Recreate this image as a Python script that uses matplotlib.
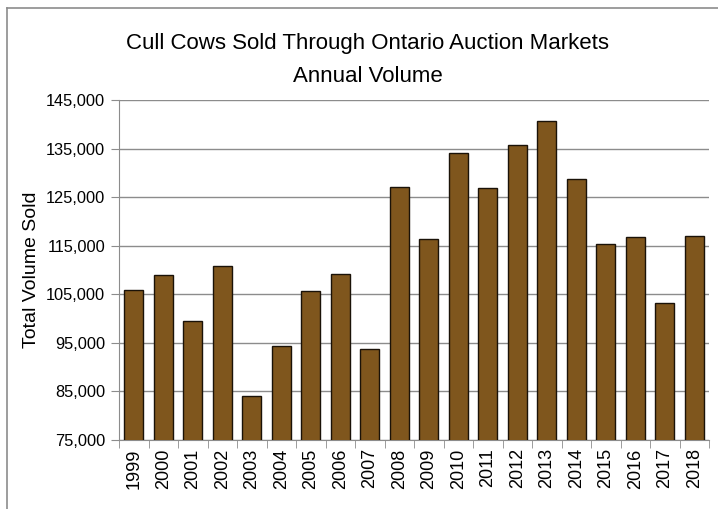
import numpy as np
import matplotlib.pyplot as plt
from matplotlib.ticker import FuncFormatter, FixedLocator
from matplotlib.lines import Line2D

# дані: кількість проданих корів за роками
years = ['1999', '2000', '2001', '2002', '2003', '2004', '2005', '2006', '2007', '2008',
         '2009', '2010', '2011', '2012', '2013', '2014', '2015', '2016', '2017', '2018']
volume = [105900, 109000, 99450, 110900, 84100, 94300, 105700, 109200, 93700, 127100,
          116400, 134100, 126900, 135750, 140600, 128800, 115400, 116700, 103200, 117100]

plt.rcParams['font.family'] = ['Liberation Sans', 'DejaVu Sans']

fig = plt.figure(figsize=(7.18, 5.09), dpi=100)
ax = fig.add_axes([119 / 718, 1 - 440 / 509, 590 / 718, 340 / 509])

x = np.arange(len(years))
ax.bar(x, volume, width=0.63, color='#7f561d', edgecolor='#1a1208', linewidth=1.0, zorder=3)

# осі
ax.set_xlim(-0.5, len(years) - 0.5)
ax.set_ylim(75000, 145000)
ax.set_yticks(np.arange(75000, 145001, 10000))
ax.yaxis.set_major_formatter(FuncFormatter(lambda v, p: f'{int(v):,}'))
ax.grid(axis='y', color='#8c8c8c', linewidth=1.0, zorder=0)

ax.set_xticks(x)
ax.set_xticklabels(years, rotation=90, fontsize=13)
ax.tick_params(axis='x', length=0, pad=6)
ax.xaxis.set_minor_locator(FixedLocator(np.arange(-0.5, len(years), 1)))
ax.tick_params(axis='x', which='minor', length=6, color='#8c8c8c')
ax.tick_params(axis='y', length=6, color='#8c8c8c', labelsize=11.8, pad=4)

for s in ['top', 'right']:
    ax.spines[s].set_visible(False)
for s in ['left', 'bottom']:
    ax.spines[s].set_color('#8c8c8c')

ax.set_ylabel('Total Volume Sold', fontsize=14, labelpad=4)

fig.text(368 / 718, 1 - 44 / 509, 'Cull Cows Sold Through Ontario Auction Markets',
         ha='center', va='center', fontsize=16)
fig.text(368 / 718, 1 - 77 / 509, 'Annual Volume', ha='center', va='center', fontsize=16)

# рамка навколо діаграми
fig.add_artist(Line2D([7 / 718, 1], [1 - 8 / 509, 1 - 8 / 509], color='#8c8c8c', linewidth=1.2))
fig.add_artist(Line2D([7 / 718, 7 / 718], [0, 1 - 8 / 509], color='#8c8c8c', linewidth=1.2))

fig.savefig('out.png', dpi=100)
